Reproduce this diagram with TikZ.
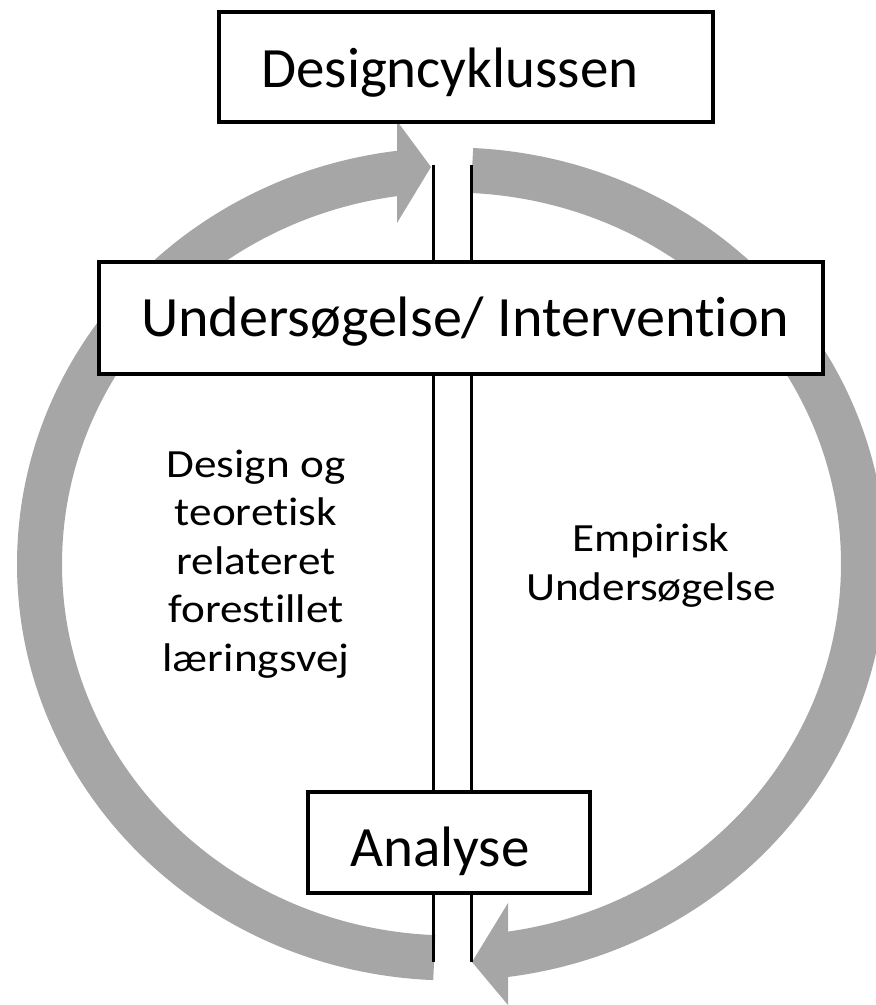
\documentclass[tikz,border=0pt]{standalone}
\usepackage{fontspec}
\setmainfont[Ligatures=CommonOff]{Carlito}
\newfontfamily\bodyfont[FakeStretch=1.13,Ligatures=CommonOff]{Carlito}
\newfontfamily\titlefont[FakeStretch=1.02,Ligatures=CommonOff]{Carlito}
\newcommand\tiNL{t\kern0pt i}
\definecolor{ringgray}{RGB}{166,166,166}
\begin{document}
\begin{tikzpicture}[x=1pt,y=1pt,
  box/.style={draw=black, line width=4pt, fill=white, inner xsep=42pt, inner ysep=0pt,
    font=\fontsize{57}{68}\selectfont, text depth=0pt},
  bodytext/.style={align=center, font=\bodyfont\fontsize{40}{48.5}\selectfont, inner sep=0pt},
  ring/.style={draw=ringgray, line width=45pt},
  head/.style={fill=ringgray},
  rail/.style={draw=black, line width=3pt}]

\path[use as bounding box] (0,0) rectangle (876,1005);
\clip (0,0) rectangle (876,1005);

% gray cycle arrows
\coordinate (c) at (451.5,441);
\draw[ring] (c) ++(267.6:412 and 394) arc[start angle=267.6, end angle=96, x radius=412, y radius=394];
\fill[head] (397,884) -- (431,838) -- (397,782) -- cycle;
\draw[ring] (c) ++(87.15:412 and 394) arc[start angle=87.15, end angle=-84, x radius=412, y radius=394];
\fill[head] (508,102) -- (472,43) -- (508,0) -- cycle;

% vertical rails
\coordinate (lt) at (433,840);
\coordinate (lb) at (433,43);
\coordinate (rt) at (471,840);
\coordinate (rb) at (471,43);
\draw[rail] (lt) -- (lb);
\draw[rail] (rt) -- (rb);

% boxes
\node[box, minimum height=110pt, text height=42.6pt] (design) at (466,938.3)
  {\makebox[409.4pt][l]{Designcyklussen}};
\node[box, minimum height=112pt, text height=38pt] (interv) at (461,687)
  {\makebox[640pt][l]{\titlefont Undersøgelse/ Interven\tiNL on}};
\node[box, minimum height=100.4pt, text height=49pt] (analyse) at (449.2,162.5)
  {\makebox[198pt][l]{Analyse}};

% texts
\node[bodytext] (lefttext) at (256,441) {Design og\\teore\tiNL sk\\relateret\\fores\tiNL llet\\læringsvej};
\node[bodytext] (righttext) at (651,439.5) {Empirisk\\Undersøgelse};
\end{tikzpicture}
\end{document}
